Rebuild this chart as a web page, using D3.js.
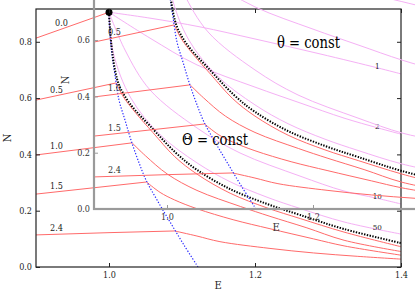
<!DOCTYPE html>
<html>
<head>
<meta charset="utf-8">
<script src="https://cdn.jsdelivr.net/npm/d3@7"></script>
<style>
  body { margin: 0; background: #fff; }
</style>
</head>
<body>
<div id="chart"></div>
<script>
// ---- data, as [E, N] ----
var xTicks = [1.0, 1.2, 1.4];
var yTicks = [0.0, 0.2, 0.4, 0.6, 0.8];

// the singular point where every curve starts
var startPoint = [1.0, 0.905];

// Theta = const : nearly flat part (left of the blue kink line)
var flatLabels = ["0.0", "0.5", "1.0", "1.5", "2.4"];
var flat00 = [[0.900, 0.813], [1.000, 0.905]];
var flat05 = [[0.900, 0.593], [1.0099, 0.654]];
var flat10 = [[0.900, 0.398], [1.0316, 0.441]];
var flat15 = [[0.900, 0.259], [1.0515, 0.302]];
var flat24 = [[0.900, 0.114], [1.000, 0.122], [1.090, 0.128]];

// Theta = const : falling part (right of the kink)
var fall05 = [[1.0099, 0.654], [1.020, 0.603], [1.037, 0.546], [1.060, 0.478], [1.090, 0.392],
              [1.1205, 0.330], [1.166, 0.262], [1.2164, 0.210], [1.262, 0.172], [1.322, 0.124], [1.400, 0.072]];
var fall10 = [[1.0316, 0.441], [1.050, 0.395], [1.080, 0.330], [1.1205, 0.272], [1.180, 0.215],
              [1.2205, 0.180], [1.270, 0.140], [1.322, 0.095], [1.400, 0.055]];
var fall15 = [[1.0515, 0.302], [1.070, 0.265], [1.090, 0.238], [1.1205, 0.207], [1.170, 0.168],
              [1.2205, 0.136], [1.280, 0.100], [1.322, 0.075], [1.400, 0.042]];
var fall24 = [[1.090, 0.128], [1.1205, 0.110], [1.152, 0.090], [1.2205, 0.066], [1.280, 0.050],
              [1.340, 0.038], [1.400, 0.028]];

// Theta = 0 boundary (black dotted)
var boundary = [[1.0, 0.905], [1.0014, 0.842], [1.0041, 0.771], [1.0082, 0.700], [1.0137, 0.647],
                [1.0233, 0.600], [1.0356, 0.558], [1.0562, 0.501], [1.0918, 0.405], [1.1205, 0.345],
                [1.1658, 0.277], [1.2164, 0.224], [1.2616, 0.185], [1.3219, 0.135], [1.400, 0.085]];

// kink line (blue dotted)
var kinkLine = [[1.0, 0.905], [1.0014, 0.824], [1.0041, 0.753], [1.0082, 0.682], [1.0137, 0.593],
                [1.0219, 0.522], [1.0301, 0.451], [1.0397, 0.380], [1.0507, 0.309], [1.0658, 0.238],
                [1.0836, 0.160], [1.1027, 0.078], [1.1219, 0.0]];

// theta = const (magenta)
var thetaLabels = ["1", "2", "10", "50"];
var theta1  = [[1.0, 0.905], [1.0562, 0.884], [1.1247, 0.853], [1.200, 0.810], [1.289, 0.757],
               [1.3685, 0.707], [1.400, 0.686]];
var theta2  = [[1.0, 0.905], [1.0562, 0.813], [1.1205, 0.718], [1.200, 0.639], [1.2616, 0.583],
               [1.3219, 0.529], [1.3685, 0.494], [1.400, 0.472]];
var theta10 = [[1.0, 0.905], [1.0219, 0.771], [1.0562, 0.629], [1.1205, 0.494], [1.1795, 0.405],
               [1.2616, 0.323], [1.3219, 0.270], [1.3658, 0.245], [1.400, 0.224]];
var theta50 = [[1.0, 0.905], [1.0060, 0.760], [1.0300, 0.600], [1.0700, 0.470], [1.1205, 0.370],
               [1.1658, 0.303], [1.2164, 0.248], [1.2616, 0.208], [1.3219, 0.160], [1.400, 0.117]];

// ---- drawing ----
var x = d3.scaleLinear().domain([0.9, 1.4]).range([36, 401]);
var y = d3.scaleLinear().domain([0, 0.9165]).range([267, 9]);
var width = 365, height = 258;
var serif = "'DejaVu Serif Condensed', 'DejaVu Serif', serif";

var svg = d3.select("#chart")
  .append("svg")
    .attr("width", 415)
    .attr("height", 291)
    .style("font-family", serif);

svg.append("defs").append("clipPath")
    .attr("id", "plotClip")
  .append("rect")
    .attr("x", 36).attr("y", 9)
    .attr("width", width).attr("height", height);

var line = d3.line()
  .x(function(d) { return x(d[0]); })
  .y(function(d) { return y(d[1]); })
  .curve(d3.curveCatmullRom.alpha(0.5));
var straight = d3.line()
  .x(function(d) { return x(d[0]); })
  .y(function(d) { return y(d[1]); });

// N value of a curve at some E (for label placement)
function valueAt(curve, e) {
  for (var i = 1; i < curve.length; i++) {
    if (curve[i][0] >= e) {
      var t = (e - curve[i-1][0]) / (curve[i][0] - curve[i-1][0]);
      return curve[i-1][1] + t * (curve[i][1] - curve[i-1][1]);
    }
  }
  return curve[curve.length - 1][1];
}

function drawPanel(g, dx, dy, axisColor, axisWidth, textColor) {

  g.attr("transform", "translate(" + dx + "," + dy + ")");
  // only put a text when it lands inside the window
  function shown(px, py) {
    return px + dx > 4 && px + dx < 411 && py + dy > 8 && py + dy < 291;
  }

  var plot = g.append("g").attr("clip-path", "url(#plotClip)");

  var flats = [flat00, flat05, flat10, flat15, flat24];
  var falls = [fall05, fall10, fall15, fall24];
  var thetas = [theta1, theta2, theta10, theta50];

  // theta = const, magenta
  thetas.forEach(function(c) {
    plot.append("path").attr("d", line(c))
      .attr("fill", "none").attr("stroke", "#f5b0f5").attr("stroke-width", 1);
  });

  // Theta = const, red
  flats.forEach(function(c) {
    plot.append("path").attr("d", straight(c))
      .attr("fill", "none").attr("stroke", "#ff6a6a").attr("stroke-width", 1);
  });
  falls.forEach(function(c) {
    plot.append("path").attr("d", line(c))
      .attr("fill", "none").attr("stroke", "#ff6a6a").attr("stroke-width", 1);
  });

  plot.append("path").attr("d", line(kinkLine))
    .attr("fill", "none").attr("stroke", "#2a2aff")
    .attr("stroke-width", 1.2).attr("stroke-dasharray", "1.3,1.7");

  plot.append("path").attr("d", line(boundary))
    .attr("fill", "none").attr("stroke", "#000")
    .attr("stroke-width", 2).attr("stroke-dasharray", "1.4,1.4");

  g.append("circle")
    .attr("cx", x(startPoint[0])).attr("cy", y(startPoint[1]))
    .attr("r", 3.5).attr("fill", "#000");

  // labels of the flat lines
  flats.forEach(function(c, i) {
    var e = i == 0 ? 0.935 : 0.928;
    var px = x(e), py = y(valueAt(c, e)) - 3;
    if (!shown(px, py)) return;
    g.append("text")
      .attr("x", px).attr("y", py)
      .attr("text-anchor", "middle")
      .attr("font-size", 9).attr("fill", textColor)
      .text(flatLabels[i]);
  });

  // labels of the theta lines
  thetas.forEach(function(c, i) {
    var px = x(1.3675), py = y(valueAt(c, 1.3675)) + 1;
    if (!shown(px, py)) return;
    g.append("text")
      .attr("x", px).attr("y", py)
      .attr("text-anchor", "middle")
      .attr("font-size", 8).attr("fill", textColor)
      .text(thetaLabels[i]);
  });

  // frame and ticks (ticks point inwards)
  g.append("rect")
    .attr("x", 36).attr("y", 9).attr("width", width).attr("height", height)
    .attr("fill", "none").attr("stroke", axisColor).attr("stroke-width", axisWidth);

  var fmt = d3.format(".1f");
  var left = g.append("g").attr("transform", "translate(36,0)")
    .call(d3.axisLeft(y).tickValues(yTicks).tickFormat(fmt).tickSizeInner(-4).tickSizeOuter(0).tickPadding(4));
  var bottom = g.append("g").attr("transform", "translate(0,267)")
    .call(d3.axisBottom(x).tickValues(xTicks).tickFormat(fmt).tickSizeInner(-4).tickSizeOuter(0).tickPadding(5));
  var right = g.append("g").attr("transform", "translate(401,0)")
    .call(d3.axisRight(y).tickValues(yTicks).tickFormat("").tickSizeInner(-4).tickSizeOuter(0));
  var top = g.append("g").attr("transform", "translate(0,9)")
    .call(d3.axisTop(x).tickValues(xTicks).tickFormat("").tickSizeInner(-4).tickSizeOuter(0));

  [left, bottom, right, top].forEach(function(a) {
    a.attr("font-family", null).attr("font-size", 9);
    a.select(".domain").remove();
    a.selectAll("line").attr("stroke", axisColor);
    a.selectAll("text").attr("fill", textColor);
    // drop tick labels that fall outside the window
    a.selectAll(".tick").each(function() {
      var t = d3.select(this).attr("transform").match(/-?[\d.]+/g).map(Number);
      var gx = t[0] + (a === left ? 36 : 0), gy = t[1] + (a === bottom ? 267 : 0);
      if (!shown(gx, gy)) d3.select(this).select("text").remove();
    });
  });

  g.append("text")
    .attr("transform", "translate(11,138) rotate(-90)")
    .attr("text-anchor", "middle")
    .attr("font-size", 11).attr("fill", textColor)
    .text("N");
  g.append("text")
    .attr("x", 218).attr("y", 289)
    .attr("text-anchor", "middle")
    .attr("font-size", 11).attr("fill", textColor)
    .text("E");
}

// main plot
drawPanel(svg.append("g"), 0, 0, "#222", 1.2, "#222");
// the same plot again, shifted up and right, grey frame
drawPanel(svg.append("g"), 58, -58, "#9a9a9a", 2.2, "#333");

svg.append("text")
  .attr("x", 277).attr("y", 48)
  .attr("font-size", 16).attr("fill", "#000")
  .attr("textLength", 63).attr("lengthAdjust", "spacingAndGlyphs")
  .text("\u03b8 = const");
svg.append("text")
  .attr("x", 182).attr("y", 145)
  .attr("font-size", 16).attr("fill", "#000")
  .attr("textLength", 66).attr("lengthAdjust", "spacingAndGlyphs")
  .text("\u0398 = const");
</script>
</body>
</html>
